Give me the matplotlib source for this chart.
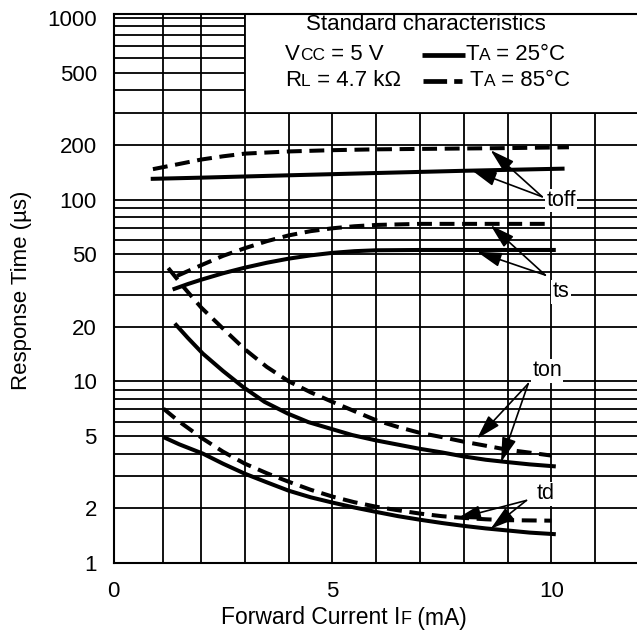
import matplotlib
matplotlib.use("Agg")
import matplotlib.pyplot as plt
from matplotlib.offsetbox import TextArea, HPacker, AnnotationBbox
from matplotlib.patches import Rectangle
from matplotlib.lines import Line2D

plt.rcParams['font.family'] = ['Liberation Sans', 'DejaVu Sans']

# curves (x: IF in mA, y: time in us)
toff_25_x = [0.85, 2, 4, 6, 8, 10.3]
toff_25_y = [130, 132, 136, 140, 144, 148]
toff_85_x = [0.9, 1.5, 2, 2.5, 3, 4, 5, 6, 7, 8, 9, 10.4]
toff_85_y = [147, 157, 166, 173, 179, 184, 187, 189, 190, 191, 192, 194]

ts_25_x = [1.35, 1.7, 2, 2.5, 3, 3.5, 4, 4.5, 5, 5.5, 6, 7, 8, 9, 10.1]
ts_25_y = [32, 34.3, 36.2, 39.3, 42.2, 44.9, 47.3, 49.3, 50.9, 52, 52.6, 52.8, 52.8, 52.8, 52.8]
ts_85_x = [1.45, 2, 2.5, 3, 3.5, 4, 4.5, 5, 5.5, 6, 7, 8, 9, 10]
ts_85_y = [38, 43.5, 49, 54, 59, 63.5, 67, 69.5, 71.3, 72.5, 73.5, 73.5, 73.5, 73.5]

ton_25_x = [1.4, 1.7, 2.04, 2.5, 2.96, 3.45, 3.98, 4.45, 4.95, 5.45, 5.99, 6.5,
            6.97, 7.5, 7.99, 8.5, 9.0, 9.5, 10.1]
ton_25_y = [20.8, 17.3, 14.2, 11.4, 9.3, 7.7, 6.64, 5.96, 5.49, 5.06, 4.73, 4.48,
            4.26, 4.06, 3.86, 3.7, 3.59, 3.49, 3.4]
ton_85_x = [1.25, 1.6, 2.0, 2.5, 3.0, 3.5, 4.0, 4.5, 5.0, 5.5, 6.0, 6.5, 7.0, 7.5,
            8.0, 8.5, 9.0, 9.5, 10.0]
ton_85_y = [42, 33, 25.5, 19.5, 15, 12, 10, 8.7, 7.7, 6.85, 6.1, 5.6, 5.2, 4.93,
            4.65, 4.42, 4.2, 4.05, 3.9]

td_25_x = [1.14, 1.5, 2.04, 2.5, 3.0, 3.5, 4.0, 4.5, 5.0, 5.5, 6.0, 6.5, 7.0, 7.5,
           8.0, 8.5, 9.0, 9.5, 10.1]
td_25_y = [4.93, 4.5, 4.0, 3.52, 3.1, 2.78, 2.5, 2.3, 2.15, 2.02, 1.91, 1.81, 1.73,
           1.66, 1.6, 1.55, 1.51, 1.47, 1.44]
td_85_x = [1.14, 1.5, 2.04, 2.5, 3.0, 3.5, 4.0, 4.5, 5.0, 5.5, 6.0, 6.5, 7.0, 7.5,
           8.0, 8.5, 9.0, 10.0]
td_85_y = [7.07, 6.0, 4.83, 4.1, 3.52, 3.12, 2.8, 2.53, 2.32, 2.16, 2.04, 1.95,
           1.87, 1.81, 1.77, 1.74, 1.72, 1.71]

grid_x = [1.13, 2, 3, 4, 5, 6, 7, 8, 9, 10, 11]
grid_y = [2, 3, 4, 5, 6, 7, 8, 9, 10, 20, 30, 40, 50, 60, 70, 80, 90, 100,
          200, 300, 400, 500, 600, 700, 800, 900, 1000]
yticks = [1, 2, 5, 10, 20, 50, 100, 200, 500, 1000]
xticks = [0, 5, 10]

# label text, label position, arrow start, arrow tips
labels = {
    'toff': ((10.22, 99), (9.79, 103.6), [(8.18, 145), (8.61, 187)]),
    'ts': ((10.22, 31), (9.86, 38.4), [(8.30, 51.6), (8.61, 72.3)]),
    'ton': ((9.9, 11.4), (9.47, 9.7), [(8.30, 4.83), (8.85, 3.59)]),
    'td': ((9.86, 2.4), (9.43, 2.21), [(7.83, 1.75), (8.61, 1.54)]),
}

W, H = 637, 639
fig = plt.figure(figsize=(W / 100, H / 100), dpi=100)
ax = fig.add_axes([113.5 / W, 1 - 563 / H, (639 - 113.5) / W, (563 - 14) / H])
ax.set_yscale('log')
ax.set_xlim(0, 12)
ax.set_ylim(1, 1050)

for gx in grid_x:
    ax.axvline(gx, color='k', lw=1.3, zorder=1)
for gy in grid_y:
    ax.axhline(gy, color='k', lw=1.3, zorder=1)

# white legend panel in the upper right
ax.add_patch(Rectangle((3, 300), 10, 1000, facecolor='white', edgecolor='k',
                       lw=1.3, zorder=2))

dash = (0, (3.7, 1.9))
lw = 2.9
for xs, ys, st in [(toff_25_x, toff_25_y, '-'), (toff_85_x, toff_85_y, dash),
                   (ts_25_x, ts_25_y, '-'), (ts_85_x, ts_85_y, dash),
                   (ton_25_x, ton_25_y, '-'), (ton_85_x, ton_85_y, dash),
                   (td_25_x, td_25_y, '-'), (td_85_x, td_85_y, dash)]:
    ax.plot(xs, ys, color='k', lw=lw, linestyle=st, zorder=3,
            solid_capstyle='butt', dash_capstyle='butt', solid_joinstyle='round')

for name, (lpos, start, tips) in labels.items():
    ax.text(lpos[0], lpos[1], name, ha='center', va='center', fontsize=15.5,
            zorder=6, bbox=dict(facecolor='white', edgecolor='none', pad=1))
    for tip in tips:
        ax.annotate('', xy=tip, xytext=start,
                    arrowprops=dict(arrowstyle='-|>,head_length=0.75,head_width=0.22',
                                    lw=1.2, color='k', shrinkA=0, shrinkB=0,
                                    mutation_scale=20),
                    zorder=5)

ax.set_yticks(yticks)
ax.set_yticklabels([str(v) for v in yticks])
ax.yaxis.set_minor_locator(matplotlib.ticker.NullLocator())
ax.set_xticks(xticks)
ax.tick_params(length=0, labelsize=16)
ax.tick_params(axis='y', pad=12)
ax.tick_params(axis='x', pad=13)
ax.spines['right'].set_visible(False)
for s in ['left', 'bottom', 'top']:
    ax.spines[s].set_linewidth(1.5)
    ax.spines[s].set_zorder(4)

fig.text(22 / W, 1 - 290 / H, 'Response Time (\u00b5s)', rotation=90,
         ha='center', va='center', fontsize=16)


def rich(parts, px, py, halign=0.0):
    boxes = [TextArea(s, textprops=dict(fontsize=fs, color='k')) for s, fs in parts]
    pack = HPacker(children=boxes, align='baseline', pad=0, sep=0)
    ab = AnnotationBbox(pack, (px / W, 1 - py / H), xycoords='figure fraction',
                        box_alignment=(halign, 0.5), frameon=False, pad=0)
    ab.set_zorder(7)
    fig.add_artist(ab)


big, small = 16, 12.5
rich([('Forward Current I', 16.5), ('F', 13), (' (mA)', 16.5)], 344, 618, 0.5)
rich([('Standard characteristics', big)], 426, 24, 0.5)
rich([('V', big), ('CC', small), (' = 5 V', big)], 285, 54)
rich([('R', big), ('L', small), (' = 4.7 k\u03a9', big)], 285, 80)
rich([('T', big), ('A', small), (' = 25\u00b0C', big)], 465, 54)
rich([('T', big), ('A', small), (' = 85\u00b0C', big)], 470, 80)

fig.add_artist(Line2D([422 / W, 465 / W], [1 - 55 / H] * 2, color='k', lw=3.4,
                      solid_capstyle='butt'))
fig.add_artist(Line2D([423 / W, 462 / W], [1 - 81 / H] * 2, color='k', lw=3.4,
                      linestyle=(0, (5.0, 1.5)), dash_capstyle='butt'))

fig.savefig('out.png', dpi=100)
